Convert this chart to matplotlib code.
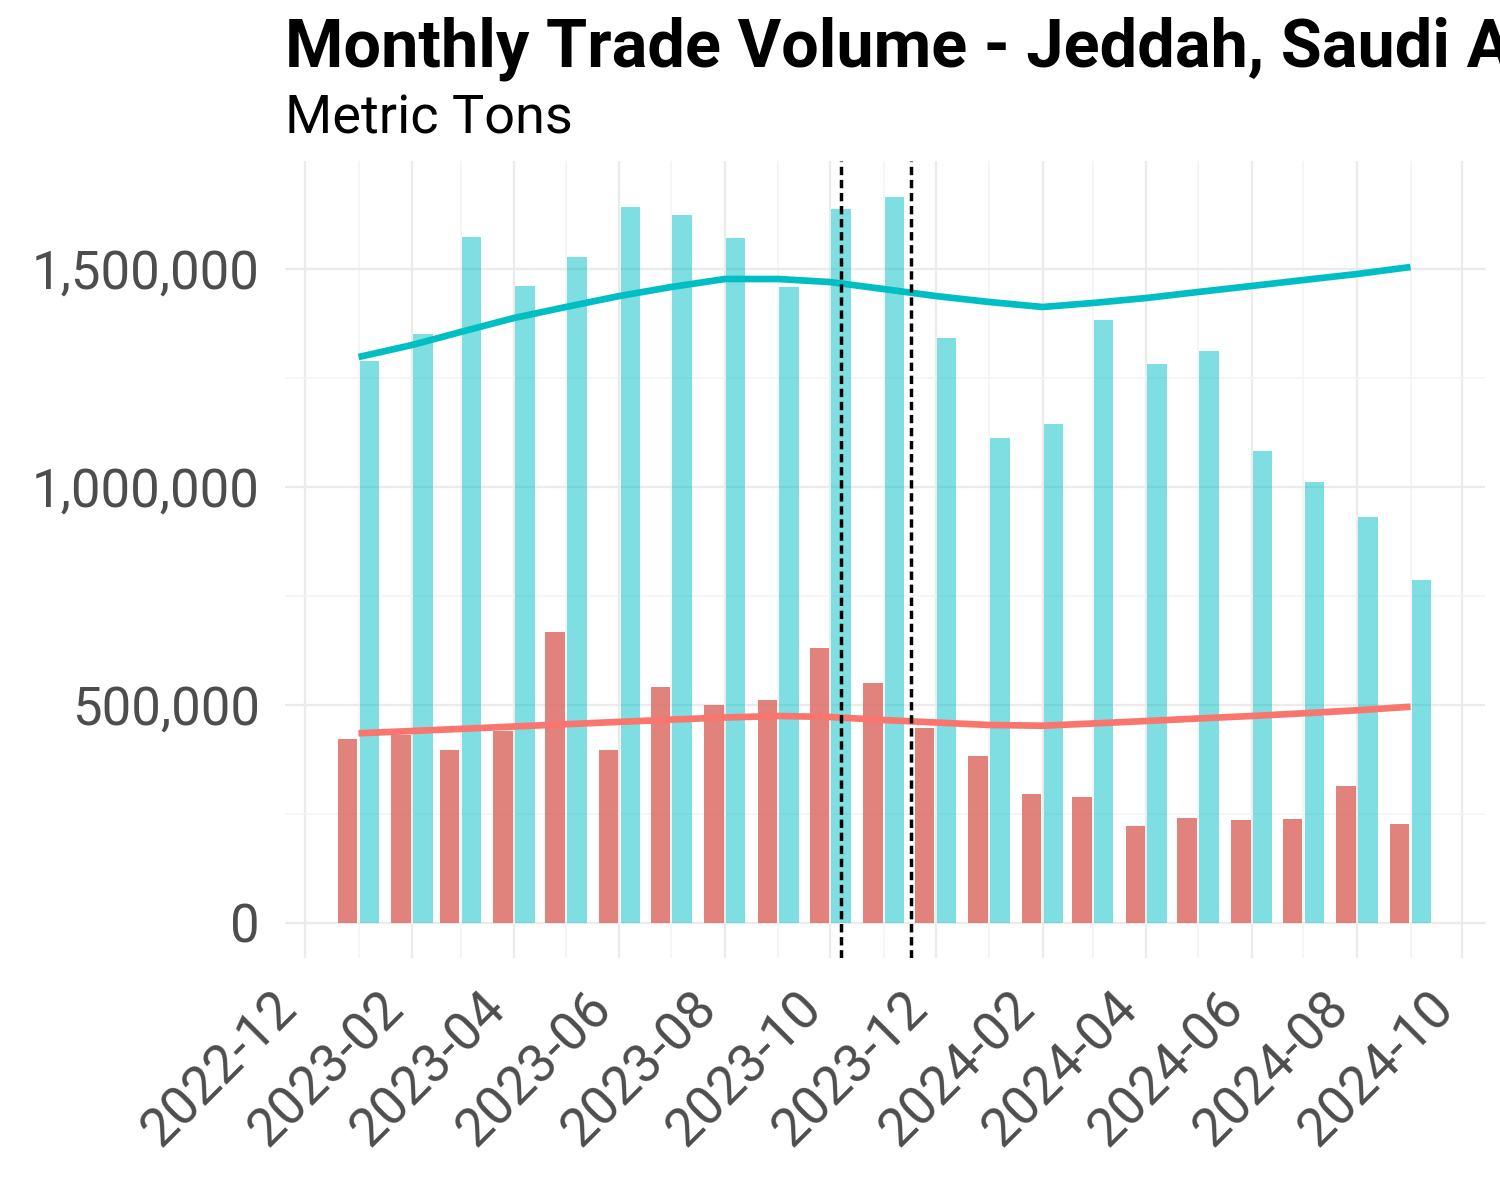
import matplotlib
matplotlib.use("Agg")
import matplotlib.pyplot as plt
import matplotlib.dates as mdates
import matplotlib.transforms as mtransforms
from matplotlib.ticker import FixedLocator, FuncFormatter
import numpy as np
import pandas as pd

# ---------------- data ----------------
months = ["2023-01", "2023-02", "2023-03", "2023-04", "2023-05", "2023-06", "2023-07",
          "2023-08", "2023-09", "2023-10", "2023-11", "2023-12", "2024-01", "2024-02",
          "2024-03", "2024-04", "2024-05", "2024-06", "2024-07", "2024-08", "2024-09"]

red_volume = [420800, 431000, 396300, 439900, 667000, 396300, 540100,
              499500, 511000, 630300, 550000, 447500, 382500, 295300,
              288400, 221900, 240300, 235700, 238000, 313700, 226500]

cyan_volume = [1290000, 1351000, 1572700, 1461000, 1527500, 1642300, 1623200,
               1571100, 1458700, 1637700, 1665200, 1341700, 1112200, 1144300,
               1382900, 1281900, 1311800, 1082400, 1010600, 930900, 786400]

red_trend = [434600, 439900, 444700, 450200, 455500, 460800, 466000,
             470900, 474300, 472000, 465100, 459400, 453700, 452000,
             457100, 462800, 468600, 474300, 480500, 487400, 495600]

cyan_trend = [1298000, 1325600, 1355400, 1387600, 1412800, 1438000, 1458700,
              1477000, 1477000, 1470000, 1454000, 1438000, 1424300, 1412800,
              1422000, 1433400, 1447200, 1461000, 1474700, 1488500, 1504600]

event_dates = ["2023-10-07", "2023-11-17"]

x_major_ticks = ["2022-12", "2023-02", "2023-04", "2023-06", "2023-08", "2023-10",
                 "2023-12", "2024-02", "2024-04", "2024-06", "2024-08", "2024-10"]
x_minor_ticks = ["2023-01", "2023-03", "2023-05", "2023-07", "2023-09", "2023-11",
                 "2024-01", "2024-03", "2024-05", "2024-07", "2024-09"]
y_major_ticks = [0, 500000, 1000000, 1500000]
y_minor_ticks = [250000, 750000, 1250000]

title = "Monthly Trade Volume - Jeddah, Saudi Arabia"
subtitle = "Metric Tons"

# ---------------- style ----------------
plt.rcParams['font.family'] = ['Roboto', 'DejaVu Sans']
plt.rcParams['lines.scale_dashes'] = False

RED_BAR = "#DC6C66"
CYAN_BAR = "#00BFC4"
RED_LINE = "#F8766D"
CYAN_LINE = "#00BFC4"
GRID = "#EBEBEB"
TXT = "#4D4D4D"

fig = plt.figure(figsize=(15, 12), dpi=100)
ax = fig.add_axes([285 / 1500, 1 - 958 / 1200, 1200 / 1500, (958 - 161) / 1200])

x = mdates.date2num(pd.to_datetime(months))
bar_w = 11.3
off = 6.3

ax.bar(x - off, red_volume, width=bar_w, color=RED_BAR, alpha=0.85, linewidth=0, zorder=2)
ax.bar(x + off, cyan_volume, width=bar_w, color=CYAN_BAR, alpha=0.5, linewidth=0, zorder=2)

ax.plot(x, cyan_trend, color=CYAN_LINE, lw=4.8, zorder=3, solid_capstyle='butt')
ax.plot(x, red_trend, color=RED_LINE, lw=4.8, zorder=3, solid_capstyle='butt')

for d in event_dates:
    ax.axvline(mdates.date2num(pd.Timestamp(d)), color='black', lw=2.5,
               dashes=(6.0, 3.4), zorder=4)

# limits
xmaj = mdates.date2num(pd.to_datetime(x_major_ticks))
xmin_ = mdates.date2num(pd.to_datetime(x_minor_ticks))
ax.set_xlim(xmaj[0] - 11.6, xmaj[-1] + 13.1)
ax.set_ylim(-81000, 1747800)

ax.xaxis.set_major_locator(FixedLocator(xmaj))
ax.xaxis.set_minor_locator(FixedLocator(xmin_))
ax.set_xticklabels(x_major_ticks)
ax.yaxis.set_major_locator(FixedLocator(y_major_ticks))
ax.yaxis.set_minor_locator(FixedLocator(y_minor_ticks))
ax.yaxis.set_major_formatter(FuncFormatter(lambda v, p: f"{int(v):,}"))

ax.grid(which='major', color=GRID, lw=1.6, zorder=0)
ax.grid(which='minor', color="#F3F3F3", lw=1.2, zorder=0)
ax.set_axisbelow(True)
for s in ax.spines.values():
    s.set_visible(False)

ax.tick_params(axis='both', which='both', length=0)
ax.tick_params(axis='y', labelsize=38, labelcolor=TXT, pad=18)
ax.tick_params(axis='x', labelsize=38.5, labelcolor=TXT, pad=14)
shift = mtransforms.ScaledTranslation(-34 / 100, -5 / 100, fig.dpi_scale_trans)
for lab in ax.get_xticklabels():
    lab.set_rotation(45)
    lab.set_ha('right')
    lab.set_va('top')
    lab.set_rotation_mode('anchor')
    lab.set_transform(lab.get_transform() + shift)

fig.text(285 / 1500, 1 - 66.7 / 1200, title, fontsize=48, fontweight='bold',
         color='black', ha='left', va='baseline')
fig.text(285 / 1500, 1 - 133.3 / 1200, subtitle, fontsize=39, color='black',
         ha='left', va='baseline')

fig.savefig("out.png", dpi=100, facecolor='white')
